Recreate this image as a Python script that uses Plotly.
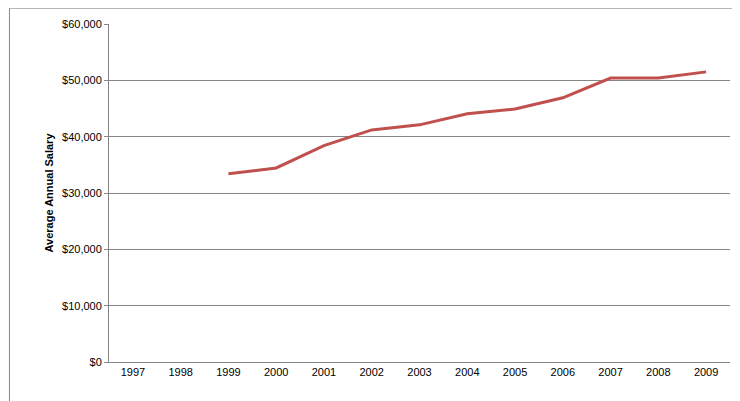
import plotly.graph_objects as go

years = [str(y) for y in range(1997, 2010)]
salary = [None, None, 33400, 34450, 38400, 41200, 42100, 44050, 44900, 46900, 50400, 50400, 51500]

fig = go.Figure(go.Scatter(x=years, y=salary, mode="lines",
                           line=dict(color="#C0504D", width=3), connectgaps=False))
fig.update_layout(
    width=740, height=401, autosize=False, paper_bgcolor="white", plot_bgcolor="white",
    margin=dict(l=101, r=18, t=16, b=47, autoexpand=False),
    font=dict(family="Liberation Sans, Arial", size=11, color="black"),
    showlegend=False,
    shapes=[dict(type="rect", xref="paper", yref="paper", x0=-0.1603, x1=1.0287, y0=-0.1390, y1=1.0470,
                 line=dict(color="#888888", width=1))],
)
fig.update_xaxes(type="category", range=[-0.5, 12.5], showgrid=False, showline=True, automargin=False,
                 linecolor="#868686", ticks="", tickfont=dict(size=11))
fig.update_yaxes(range=[0, 60000], dtick=10000, tickprefix="$", tickformat=",", automargin=False,
                 gridcolor="#868686", showline=True, linecolor="#868686", zeroline=False,
                 ticks="outside", ticklen=4, tickcolor="#868686",
                 title=dict(text="<b>Average Annual Salary</b>", font=dict(size=11), standoff=6))
fig.write_html("out.html")
